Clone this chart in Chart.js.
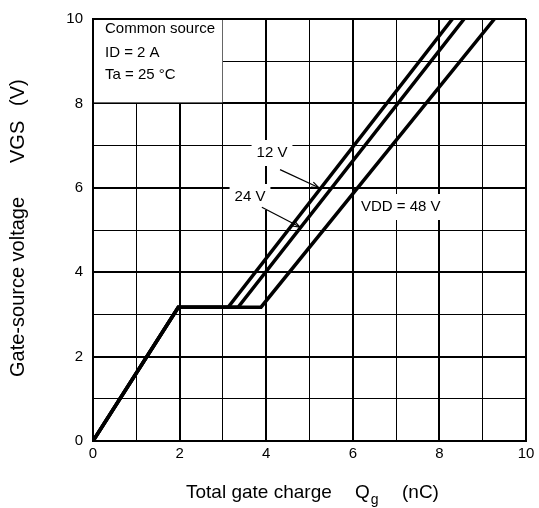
<!DOCTYPE html>
<html>
<head>
<meta charset="utf-8">
<script src="https://cdn.jsdelivr.net/npm/chart.js@4/dist/chart.umd.min.js"></script>
<style>
  html, body { margin: 0; padding: 0; background: #fff; }
  canvas { display: block; }
</style>
</head>
<body>
<canvas id="gateChart" width="539" height="508"></canvas>
<script>
// gate charge curves, Qg (nC) vs VGS (V)
const q12 = [0, 1.97, 3.12, 8.30];
const v12 = [0, 3.17, 3.17, 10];
const q24 = [0, 1.97, 3.35, 8.57];
const v24 = [0, 3.17, 3.17, 10];
const q48 = [0, 1.97, 3.88, 9.27];
const v48 = [0, 3.17, 3.17, 10];

const seriesNames = ['12 V', '24 V', 'VDD = 48 V'];
const xTickLabels = [0, 2, 4, 6, 8, 10];
const yTickLabels = [0, 2, 4, 6, 8, 10];
const conditions = ['Common source', 'ID = 2 A', 'Ta = 25 °C'];

const FONT = "'Liberation Sans', Arial, sans-serif";

function toPoints(xs, ys) {
    return xs.map((x, i) => ({x: x, y: ys[i]}));
}

// white box with conditions, curve labels, arrows, axis titles
const decorPlugin = {
    id: 'decor',
    beforeDatasetsDraw(chart) {
        const ctx = chart.ctx;
        const xs = chart.scales.x;
        const ys = chart.scales.y;
        const px = v => xs.getPixelForValue(v);
        const py = v => ys.getPixelForValue(v);

        ctx.save();
        // conditions box (covers grid 0..3 / 8..10)
        ctx.fillStyle = '#fff';
        ctx.fillRect(px(0) + 1, py(10) + 1, px(3) - px(0) - 1.5, py(8) - py(10) - 2);
        ctx.fillStyle = '#000';
        ctx.font = '15px ' + FONT;
        ctx.textBaseline = 'middle';
        ctx.textAlign = 'left';
        const condY = [29, 53, 75];
        conditions.forEach((t, i) => ctx.fillText(t, 105, condY[i]));

        // curve labels with white background
        const labels = [
            {text: seriesNames[0], x: 272, y: 153, align: 'center'},
            {text: seriesNames[1], x: 250, y: 197, align: 'center'},
            {text: seriesNames[2], x: 361, y: 207, align: 'left'}
        ];
        labels.forEach(l => {
            const w = ctx.measureText(l.text).width;
            const left = l.align === 'center' ? l.x - w / 2 : l.x;
            ctx.fillStyle = '#fff';
            ctx.fillRect(left - 5, l.y - 13, w + 10, 26);
            ctx.fillStyle = '#000';
            ctx.textAlign = l.align;
            ctx.fillText(l.text, l.x, l.y);
        });

        // arrows
        const arrows = [
            [4.32, 6.43, 5.22, 6.0],
            [3.90, 5.54, 4.78, 5.07]
        ];
        ctx.strokeStyle = '#000';
        ctx.lineWidth = 1.2;
        arrows.forEach(a => {
            const x1 = px(a[0]), y1 = py(a[1]), x2 = px(a[2]), y2 = py(a[3]);
            const ang = Math.atan2(y2 - y1, x2 - x1);
            ctx.beginPath();
            ctx.moveTo(x1, y1);
            ctx.lineTo(x2, y2);
            ctx.stroke();
            ctx.beginPath();
            ctx.moveTo(x2, y2);
            ctx.lineTo(x2 - 8 * Math.cos(ang - 0.35), y2 - 8 * Math.sin(ang - 0.35));
            ctx.moveTo(x2, y2);
            ctx.lineTo(x2 - 8 * Math.cos(ang + 0.35), y2 - 8 * Math.sin(ang + 0.35));
            ctx.stroke();
        });
        ctx.restore();
    },
    afterDraw(chart) {
        const ctx = chart.ctx;
        ctx.save();
        ctx.fillStyle = '#000';
        ctx.textBaseline = 'middle';
        ctx.textAlign = 'left';

        // x title
        const ty = 493;
        ctx.font = '19px ' + FONT;
        ctx.fillText('Total gate charge', 186, ty);
        ctx.fillText('Q', 355, ty);
        const qw = ctx.measureText('Q').width;
        ctx.font = '14px ' + FONT;
        ctx.fillText('g', 355 + qw + 1, ty + 7);
        ctx.font = '19px ' + FONT;
        ctx.fillText('(nC)', 402, ty);

        // y title
        ctx.font = '20px ' + FONT;
        ctx.translate(18, 0);
        ctx.rotate(-Math.PI / 2);
        ctx.fillText('Gate-source voltage', -377, 0);
        ctx.fillText('VGS', -163, 0);
        ctx.fillText('(V)', -106, 0);
        ctx.restore();
    }
};

const lineStyle = {
    showLine: true,
    borderColor: '#000',
    borderWidth: 3.5,
    pointRadius: 0,
    fill: false,
    tension: 0
};

const data = {
    datasets: [
        Object.assign({label: seriesNames[0], data: toPoints(q12, v12)}, lineStyle),
        Object.assign({label: seriesNames[1], data: toPoints(q24, v24)}, lineStyle),
        Object.assign({label: seriesNames[2], data: toPoints(q48, v48)}, lineStyle)
    ]
};

const gridStyle = {
    color: '#000',
    lineWidth: c => (c.tick && c.tick.value % 2 === 0) ? 2 : 1,
    drawTicks: false
};

const config = {
    type: 'scatter',
    data: data,
    options: {
        responsive: false,
        animation: false,
        layout: {padding: {left: 0, right: 13, top: 14, bottom: 0}},
        plugins: {
            legend: {display: false},
            tooltip: {enabled: false}
        },
        scales: {
            x: {
                type: 'linear',
                min: 0,
                max: 10,
                grid: gridStyle,
                border: {color: '#000', width: 2},
                ticks: {
                    stepSize: 1,
                    autoSkip: false,
                    maxRotation: 0,
                    padding: 4,
                    color: '#000',
                    font: {family: FONT, size: 15},
                    callback: v => xTickLabels.includes(v) ? String(v) : ''
                },
                afterFit: s => { s.height = 67; }
            },
            y: {
                type: 'linear',
                min: 0,
                max: 10,
                grid: gridStyle,
                border: {color: '#000', width: 2},
                ticks: {
                    stepSize: 1,
                    autoSkip: false,
                    padding: 10,
                    color: '#000',
                    font: {family: FONT, size: 15},
                    callback: v => yTickLabels.includes(v) ? String(v) : ''
                },
                afterFit: s => { s.width = 93; }
            }
        }
    },
    plugins: [decorPlugin]
};

new Chart(document.getElementById('gateChart').getContext('2d'), config);
</script>
</body>
</html>
